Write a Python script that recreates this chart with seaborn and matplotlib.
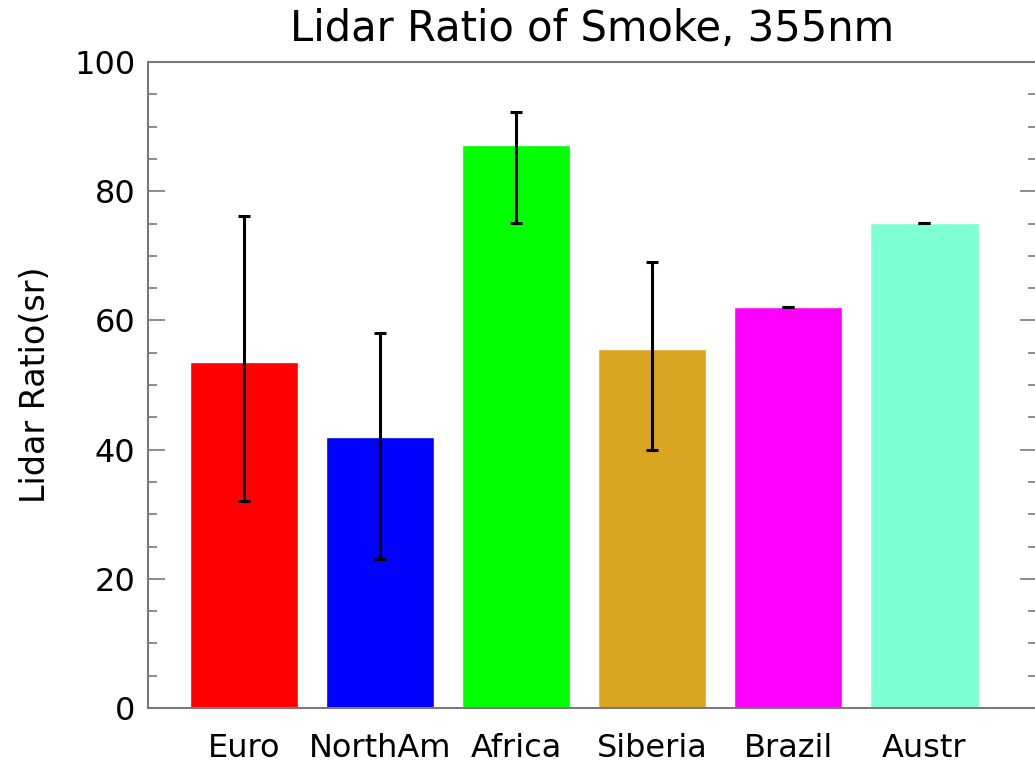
import matplotlib
matplotlib.use("Agg")
import matplotlib.pyplot as plt
from matplotlib.ticker import MultipleLocator
import seaborn as sns
import pandas as pd
import numpy as np

# Smoke lidar ratios at 355 nm by source region
regions = ["Euro", "NorthAm", "Africa", "Siberia", "Brazil", "Austr"]
lidar_ratio = [53.6, 42.0, 87.2, 55.6, 62.1, 75.1]
err_low = [32.0, 23.0, 75.1, 40.0, 62.1, 75.1]
err_high = [76.2, 58.1, 92.2, 69.1, 62.1, 75.1]
bar_colors = ["#FF0000", "#0000FF", "#00FF00", "#DAA520", "#FF00FF", "#7FFFD4"]

sns.set_style("white")
plt.rcParams["font.family"] = ["DejaVu Sans"]
plt.rcParams["text.color"] = "black"
plt.rcParams["axes.labelcolor"] = "black"
plt.rcParams["xtick.labelcolor"] = "black"
plt.rcParams["ytick.labelcolor"] = "black"

df = pd.DataFrame({"region": regions, "ratio": lidar_ratio})

fig = plt.figure(figsize=(10.35, 7.65), dpi=100)
W, H = 1035, 765
ax = fig.add_axes([148 / W, (H - 708) / H, (1037 - 148) / W, (708 - 62) / H])

sns.barplot(data=df, x="region", y="ratio", hue="region", palette=bar_colors,
            width=0.8, legend=False, ax=ax, saturation=1, errorbar=None)

pos = np.arange(len(regions))
vals = np.array(lidar_ratio)
yerr = np.vstack([vals - np.array(err_low), np.array(err_high) - vals])
ax.errorbar(pos, vals, yerr=yerr, fmt="none", ecolor="black",
            elinewidth=2.2, capsize=4.5, capthick=2.2, zorder=5)

ax.set_xlim(-0.706, 5.83)
ax.set_ylim(0, 100)
ax.yaxis.set_major_locator(MultipleLocator(20))
ax.yaxis.set_minor_locator(MultipleLocator(5))

spine_col = "#7a7a7a"
for s in ax.spines.values():
    s.set_visible(True)
    s.set_color(spine_col)
    s.set_linewidth(1.5)

ax.tick_params(axis="y", which="major", direction="in", length=12, width=1.2,
               color=spine_col, left=True, right=True, labelsize=23, pad=9)
ax.tick_params(axis="y", which="minor", direction="in", length=6.5, width=1.2,
               color=spine_col, left=True, right=True)
ax.tick_params(axis="x", which="major", direction="in", length=8.5, width=1,
               color="black", bottom=True, top=False, labelsize=23, pad=18)

ax.set_xlabel("")
ax.set_ylabel("Lidar Ratio(sr)", fontsize=24, color="black")
ax.yaxis.set_label_coords(-0.108, 0.5)
ax.set_title("Lidar Ratio of Smoke, 355nm", fontsize=30, pad=15, color="black")

fig.savefig("out.png", dpi=100)
